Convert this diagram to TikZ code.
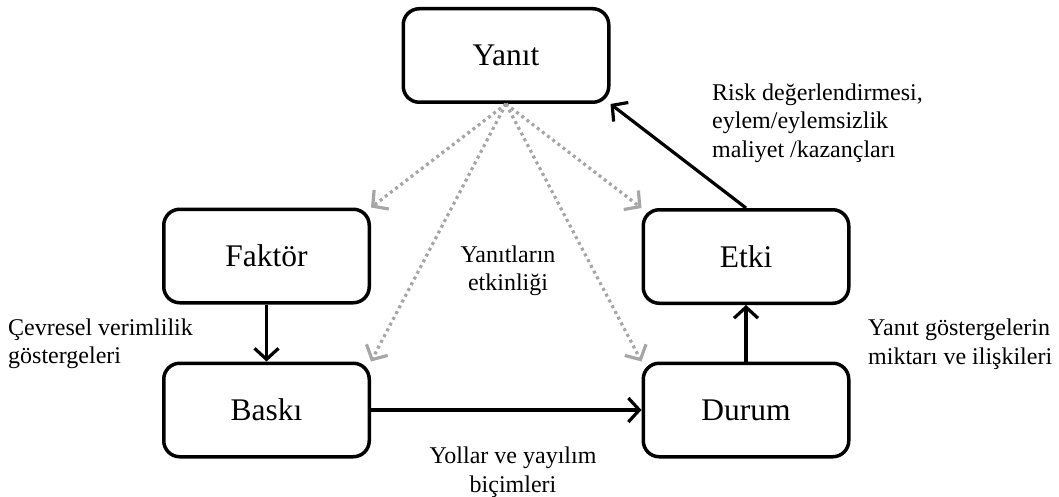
\documentclass[tikz,border=0pt]{standalone}
\usepackage{fontspec}
\setmainfont{Liberation Serif}
\usetikzlibrary{arrows.meta}
\definecolor{respgray}{RGB}{166,166,166}
\begin{document}
\begin{tikzpicture}[x=1pt,y=-1pt,
  box/.style={draw=black, line width=3.5pt, rounded corners=16pt, minimum width=205.5pt, minimum height=93.5pt, inner sep=0pt, font=\fontsize{31.5}{36}\selectfont},
  lbl/.style={inner sep=0pt, font=\fontsize{24}{28.5}\selectfont},
  flow/.style={line width=3.2pt, draw=black, -{Straight Barb[length=11pt,width=24pt,line width=3.2pt]}},
  resp/.style={line width=3.2pt, draw=respgray, dash pattern=on 3pt off 3.5pt, -{Straight Barb[length=11pt,width=24pt,line width=3.2pt]}}
]
\useasboundingbox (0,0) rectangle (1059,497);
\node[box] (yanit) at (506,55.5) {Yanıt};
\node[box] (faktor) at (266.5,256) {Faktör};
\node[box] (baski) at (266.5,410) {Baskı};
\node[box] (etki) at (746,256.5) {Etki};
\node[box] (durum) at (746,410) {Durum};

\draw[resp] (yanit.south) -- (faktor.north east);
\draw[resp] (yanit.south) -- (baski.north east);
\draw[resp] (yanit.south) -- (etki.north west);
\draw[resp] (yanit.south) -- (durum.north west);

\draw[flow] (faktor) -- (baski);
\draw[flow] (baski) -- (durum);
\draw[flow] (durum) -- (etki);
\draw[flow] (etki.north) -- (yanit.south east);

\node[lbl, align=left, anchor=west] (risk) at (712,123) {Risk değerlendirmesi,\\eylem/eylemsizlik\\maliyet /kazançları};
\node[lbl, align=left, anchor=west] (cevre) at (8,344) {Çevresel verimlilik\\göstergeleri};
\node[lbl, align=left, anchor=west] (yg) at (868,344) {Yanıt göstergelerin\\miktarı ve ilişkileri};
\node[lbl, align=center] (yollar) at (513,472) {Yollar ve yayılım\\biçimleri};
\node[lbl, align=center] (etkin) at (508,271) {Yanıtların\\etkinliği};
\end{tikzpicture}
\end{document}
